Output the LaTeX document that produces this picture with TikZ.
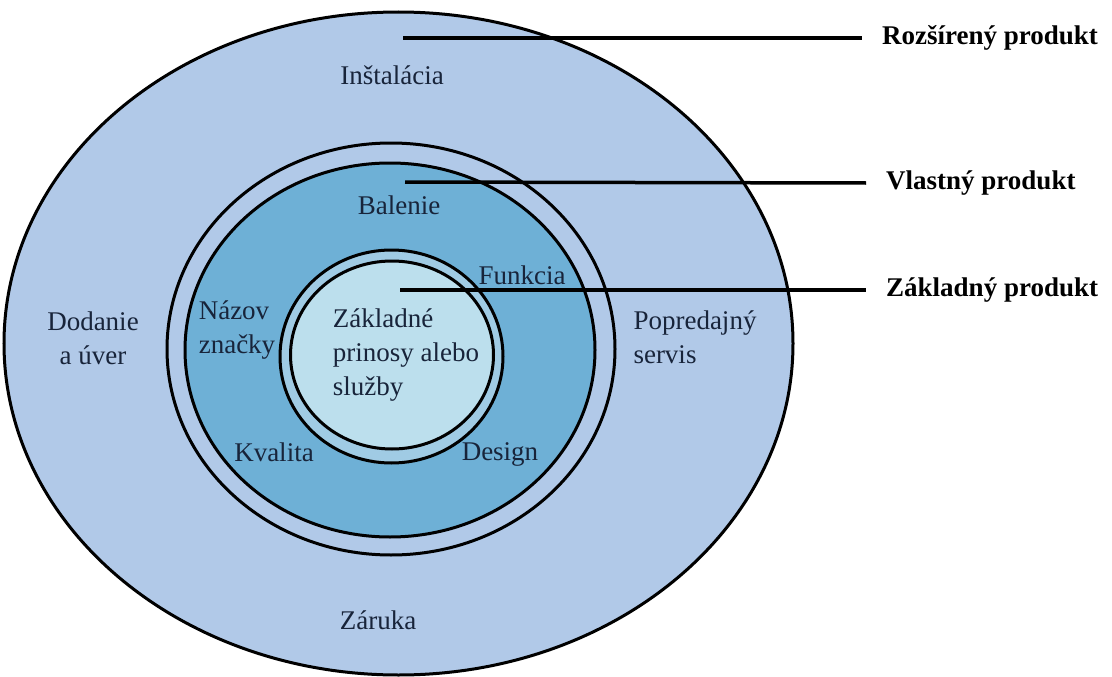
\documentclass[tikz,border=0pt]{standalone}
\usepackage{fontspec}
\setmainfont{Liberation Serif}
\usepackage{tikz}
\usetikzlibrary{positioning}
\definecolor{outerblue}{RGB}{177,201,232}
\definecolor{midblue}{RGB}{110,176,214}
\definecolor{gapblue}{RGB}{160,203,228}
\definecolor{coreblue}{RGB}{188,223,237}
\definecolor{textnavy}{RGB}{24,36,58}

\begin{document}
\begin{tikzpicture}[x=1pt,y=-1pt]
        \tikzstyle{every node}+=[inner sep=0pt, text=textnavy, font=\fontsize{27}{34}\selectfont]
        \tikzstyle{ring}=[draw=black, line width=3pt]
        \tikzstyle{lead}=[draw=black, line width=3.5pt]
        \tikzstyle{layer}=[anchor=west, inner xsep=20pt, text=black, font=\bfseries\fontsize{27}{30}\selectfont]
        \useasboundingbox (0,0) rectangle (1112,677);
        \fill [white] (0,0) rectangle (1112,677);
        % rings, outside in
        \filldraw [ring, fill=outerblue] (398.5,343.5) ellipse [x radius=394.5pt, y radius=331.5pt];
        \filldraw [ring, fill=outerblue] (391,349) ellipse [x radius=224pt, y radius=206pt];
        \filldraw [ring, fill=midblue] (390,350) ellipse [x radius=205pt, y radius=187pt];
        \filldraw [ring, fill=gapblue] (391.5,356.5) ellipse [x radius=111.5pt, y radius=106.5pt];
        \filldraw [ring, fill=coreblue] (392,355) ellipse [x radius=101.5pt, y radius=94pt];
        % texts in the rings
        \node (inst) at (392,75) {Inštalácia};
        \node (dod) at (93,338) [align=center] {Dodanie\\a úver};
        \node (pop) at (695,337) [align=left] {Popredajný\\servis};
        \node (zar) at (378,620) {Záruka};
        \node (bal) at (399,205) {Balenie};
        \node (funk) at (522,275) {Funkcia};
        \node (naz) at (237,330) [align=left] {Názov\\značky};
        \node (kval) at (274,452) {Kvalita};
        \node (des) at (500,454) {Design};
        \node (zakl) at (406,355) [align=left] {Základné\\prinosy alebo\\služby};
        % layer labels
        \node [layer] (rozs) at (862,38) {Rozšírený produkt};
        \node [layer] (vlas) at (866,183) {Vlastný produkt};
        \node [layer] (zakp) at (866,290) {Základný produkt};
        \coordinate (rozs-in) at (403,38);
        \coordinate (vlas-in) at (405,182);
        \coordinate (zakp-in) at (400,290);
        \draw [lead] (rozs-in) -- (rozs.west);
        \draw [lead] (vlas-in) -- (vlas.west);
        \draw [lead] (zakp-in) -- (zakp.west);
\end{tikzpicture}
\end{document}
